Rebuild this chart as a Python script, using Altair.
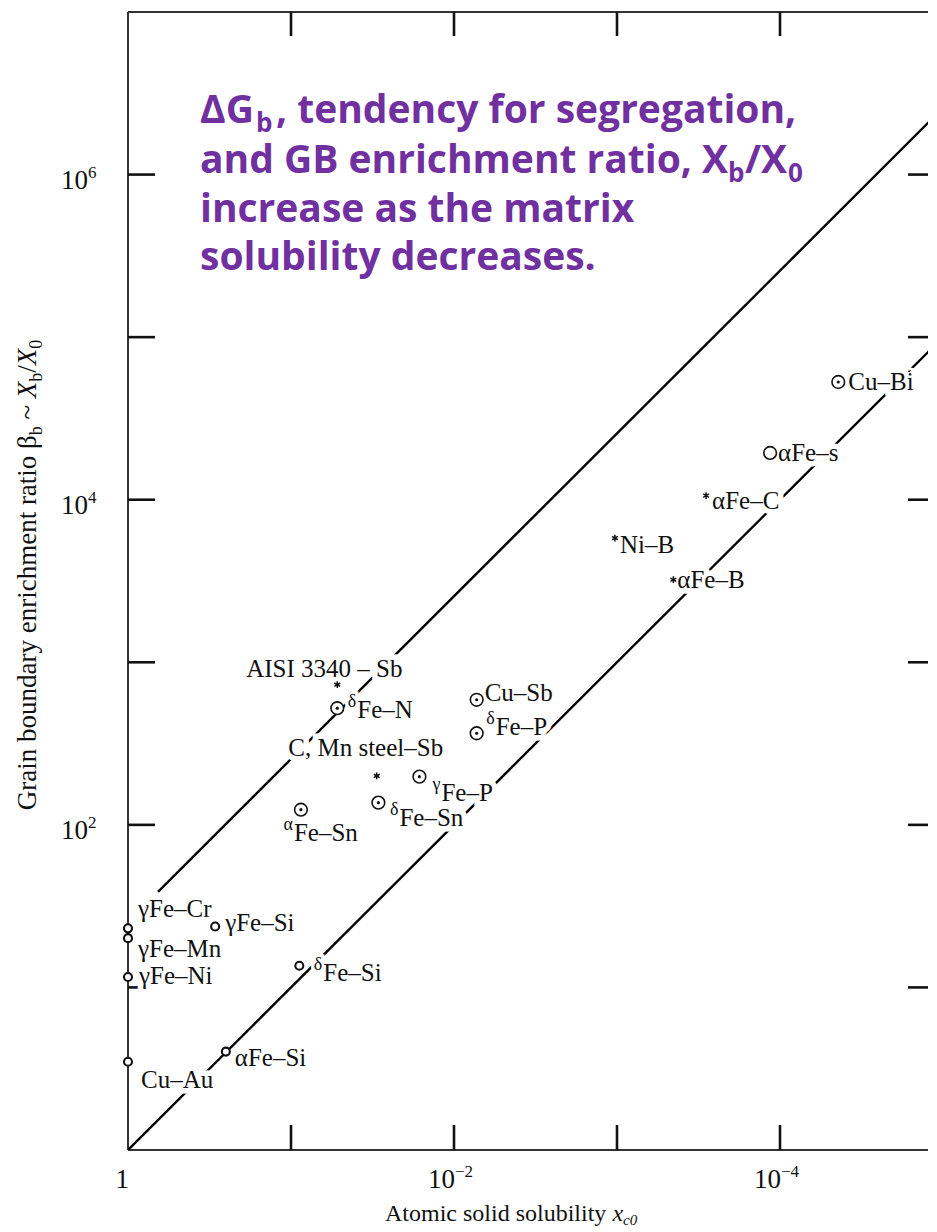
import math
import altair as alt
import pandas as pd

# ---------------- data ----------------
systems = ["Cu–Bi", "αFe–s", "αFe–C", "Ni–B", "αFe–B", "AISI 3340 – Sb", "Fe–N",
           "C, Mn steel–Sb", "Cu–Sb", "Fe–P", "Fe–P", "Fe–Sn", "Fe–Sn",
           "γFe–Cr", "γFe–Mn", "γFe–Si", "γFe–Ni", "Fe–Si", "Cu–Au", "αFe–Si"]
prefixes = ["", "", "", "", "", "", "δ", "", "", "δ", "γ", "δ", "α",
            "", "", "", "", "δ", "", ""]
solubility = [4.39e-5, 1.15e-4, 2.84e-4, 1.03e-3, 4.51e-4, 5.2e-2, 5.2e-2,
              2.98e-2, 7.26e-3, 7.26e-3, 1.63e-2, 2.91e-2, 8.69e-2,
              1.0, 1.0, 0.292, 1.0, 8.89e-2, 1.0, 0.251]
enrichment = [5.3e4, 1.94e4, 1.06e4, 5.81e3, 3.22e3, 728, 522,
              200, 588, 366, 198, 137, 124,
              23.1, 20.1, 23.7, 11.6, 13.6, 3.49, 4.03]
markers = ["dot", "ring", "star", "star", "star", "star", "dot",
           "star", "dot", "dot", "dot", "dot", "dot",
           "small", "small", "small", "small", "small", "small", "small"]

# trend lines (end points)
line_names = ["lower", "lower", "upper", "upper"]
line_x = [1.0, 1.104e-5, 0.655, 1.104e-5]
line_y = [1.0, 9.06e4, 38.7, 2.33e6]

# axes
x_tick_values = [1e-1, 1e-2, 1e-3, 1e-4]
y_tick_values = [1e1, 1e2, 1e3, 1e4, 1e5, 1e6]
x_label_values = [1.0, 1e-2, 1e-4]
x_label_base = ["1", "10", "10"]
x_label_exp = ["", "−2", "−4"]
y_label_values = [1e2, 1e4, 1e6]
y_label_base = ["10", "10", "10"]
y_label_exp = ["2", "4", "6"]

# ---------------- layout (pixel offsets of labels) ----------------
label_dx = [10, 8, 6, 5, 4, -13, 20, -11, 8, 19, 22, 21, -7, 10, 10, 10, 11, 24, 13, 9]
label_dy = [0, 0, 5, 7, 0, -16, 2, -28, -7, -6, 16, 15, 23, -19, 11, -4, -1, 7, 18, 6]
label_align = ["left"] * 5 + ["center", "left", "center"] + ["left"] * 12

X_MIN, X_MAX = 1.0, 1.236e-5
Y_MIN, Y_MAX = 1.0, 1.0e7
W, H = 800, 1138
PXD_X = W / math.log10(X_MIN / X_MAX)   # pixels per decade
PXD_Y = H / math.log10(Y_MAX / Y_MIN)
SERIF = "Liberation Serif"
SANS = "Open Sans"
PURPLE = "#7030A0"
INK = "#111111"
LABEL_SIZE = 25
PRE_SIZE = 18

df = pd.DataFrame({
    "name": systems, "pre": prefixes, "x": solubility, "y": enrichment,
    "marker": markers, "dx": label_dx, "dy": label_dy, "align": label_align,
})
lines = pd.DataFrame({"line": line_names, "x": line_x, "y": line_y})
xt = pd.DataFrame({"v": x_tick_values})
yt = pd.DataFrame({"v": y_tick_values})
xl = pd.DataFrame({"v": x_label_values, "base": x_label_base, "exp": x_label_exp})
yl = pd.DataFrame({"v": y_label_values, "base": y_label_base, "exp": y_label_exp})

xs = alt.Scale(type="log", domain=[X_MIN, X_MAX], nice=False)
ys = alt.Scale(type="log", domain=[Y_MIN, Y_MAX], nice=False)


def X(f):
    return alt.X(f, type="quantitative", scale=xs, axis=None)


def Y(f):
    return alt.Y(f, type="quantitative", scale=ys, axis=None)


one = pd.DataFrame({"k": [0]})
layers = []

# frame
layers.append(alt.Chart(one).mark_rule(color="#333", strokeWidth=2).encode(
    x=alt.value(0), y=alt.value(0), y2=alt.value(H)))
layers.append(alt.Chart(one).mark_rule(color="#333", strokeWidth=2).encode(
    x=alt.value(0), x2=alt.value(W), y=alt.value(0)))
layers.append(alt.Chart(one).mark_rule(color="#333", strokeWidth=2).encode(
    x=alt.value(0), x2=alt.value(W), y=alt.value(H)))

# inward ticks on four sides
layers.append(alt.Chart(xt).mark_rule(color=INK, strokeWidth=2.6).encode(
    x=X("v"), y=alt.value(0), y2=alt.value(24)))
layers.append(alt.Chart(xt).mark_rule(color=INK, strokeWidth=2.6).encode(
    x=X("v"), y=alt.value(H - 25), y2=alt.value(H)))
layers.append(alt.Chart(yt).mark_rule(color=INK, strokeWidth=2.6).encode(
    y=Y("v"), x=alt.value(0), x2=alt.value(27)))
layers.append(alt.Chart(yt).mark_rule(color=INK, strokeWidth=2.6).encode(
    y=Y("v"), x=alt.value(W - 20), x2=alt.value(W)))

# tick labels: base "10" plus a raised exponent
layers.append(alt.Chart(xl).mark_text(align="right", baseline="alphabetic", font=SERIF,
                                      fontSize=27, color=INK, dx=1).encode(
    x=X("v"), y=alt.value(H + 38), text="base:N"))
layers.append(alt.Chart(xl).mark_text(align="left", baseline="alphabetic", font=SERIF,
                                      fontSize=17, color=INK, dx=1).encode(
    x=X("v"), y=alt.value(H + 27), text="exp:N"))
layers.append(alt.Chart(yl).mark_text(align="right", baseline="alphabetic", font=SERIF,
                                      fontSize=27, color=INK, dy=14).encode(
    y=Y("v"), x=alt.value(-40), text="base:N"))
layers.append(alt.Chart(yl).mark_text(align="left", baseline="alphabetic", font=SERIF,
                                      fontSize=17, color=INK, dy=3).encode(
    y=Y("v"), x=alt.value(-40), text="exp:N"))

# trend lines
layers.append(alt.Chart(lines).mark_line(color="black", strokeWidth=2.4, clip=True).encode(
    x=X("x"), y=Y("y"), detail="line:N"))

# label anchor positions derived from the pixel offsets
lab = alt.Chart(df).transform_calculate(
    lx=f"datum.x * pow(10, -datum.dx / {PXD_X})",
    ly=f"datum.y * pow(10, -datum.dy / {PXD_Y})",
    sx=f"datum.x * pow(10, -(datum.dx - 1) / {PXD_X})",
    sy=f"datum.y * pow(10, -(datum.dy - 8) / {PXD_Y})",
)

# label halos (knock out the lines behind labels)
for al in ["left", "center"]:
    layers.append(lab.transform_filter(alt.datum.align == al).mark_text(
        align=al, baseline="middle", font=SERIF, fontSize=LABEL_SIZE,
        stroke="white", strokeWidth=11, fill="white").encode(
        x=X("lx:Q"), y=Y("ly:Q"), text="name:N"))
layers.append(lab.transform_filter(alt.datum.pre != "").mark_text(
    align="right", baseline="middle", font=SERIF, fontSize=PRE_SIZE,
    stroke="white", strokeWidth=7, fill="white").encode(
    x=X("sx:Q"), y=Y("sy:Q"), text="pre:N"))

# markers
layers.append(alt.Chart(df).transform_filter(
    (alt.datum.marker == "dot") | (alt.datum.marker == "ring")).mark_point(
    shape="circle", size=160, fill="white", fillOpacity=1, stroke=INK,
    strokeWidth=1.6, opacity=1).encode(x=X("x"), y=Y("y")))
layers.append(alt.Chart(df).transform_filter(alt.datum.marker == "dot").mark_point(
    shape="circle", size=10, filled=True, color=INK, opacity=1).encode(x=X("x"), y=Y("y")))
layers.append(alt.Chart(df).transform_filter(alt.datum.marker == "small").mark_point(
    shape="circle", size=64, fill="white", fillOpacity=1, stroke=INK,
    strokeWidth=2.1, opacity=1).encode(x=X("x"), y=Y("y")))
layers.append(alt.Chart(df).transform_filter(alt.datum.marker == "star").mark_point(
    shape="M0,-1L0,1M-0.87,-0.5L0.87,0.5M-0.87,0.5L0.87,-0.5", size=45,
    filled=False, stroke=INK, strokeWidth=1.5, opacity=1).encode(x=X("x"), y=Y("y")))

# labels
for al in ["left", "center"]:
    layers.append(lab.transform_filter(alt.datum.align == al).mark_text(
        align=al, baseline="middle", font=SERIF, fontSize=LABEL_SIZE, color=INK).encode(
        x=X("lx:Q"), y=Y("ly:Q"), text="name:N"))
# raised phase prefixes (δ, γ, α)
layers.append(lab.transform_filter(alt.datum.pre != "").mark_text(
    align="right", baseline="middle", font=SERIF, fontSize=PRE_SIZE, color=INK).encode(
    x=X("sx:Q"), y=Y("sy:Q"), text="pre:N"))

# ---------------- axis titles built from pieces (with subscripts) ----------------
TR = {' ': 250, 'G': 722, 'r': 333, 'a': 444, 'i': 278, 'n': 500, 'b': 500, 'o': 500,
      'u': 500, 'd': 500, 'y': 500, 'e': 444, 'c': 444, 'h': 500, 'm': 778, 't': 278,
      'β': 500, '~': 541, '/': 278, '0': 500, 'A': 722, 's': 389, 'l': 278, 'X': 722, 'x': 500}
TI = {'X': 611, 'x': 444, ' ': 250}


def tw(s, size, italic=False):
    tab = TI if italic else TR
    return sum(tab.get(ch, TR.get(ch, 500)) for ch in s) * size / 1000.0


def piece(text, px, py, size, font=SERIF, color=INK, style="normal",
          weight="normal", angle=None, align="left"):
    kw = dict(text=text, font=font, fontSize=size, color=color, fontStyle=style,
              fontWeight=weight, align=align, baseline="alphabetic")
    if angle is not None:
        kw["angle"] = angle
    return alt.Chart(one).mark_text(**kw).encode(x=alt.value(px), y=alt.value(py))


# y title: Grain boundary enrichment ratio β_b ~ X_b/X_0 (rotated)
y_parts = [("Grain boundary enrichment ratio β", False, 27, 0), ("b", False, 18, 6),
           (" ~ ", False, 27, 0), ("X", True, 27, 0), ("b", False, 18, 6),
           ("/", False, 27, 0), ("X", True, 27, 0), ("0", False, 18, 6)]
total = sum(tw(t, s, it) for t, it, s, _ in y_parts)
pos = 563 + total / 2
for t, it, s, sh in y_parts:
    lead = tw(t[:len(t) - len(t.lstrip())], s, it)
    if t.strip():
        layers.append(piece(t.strip(), -92 + sh, pos - lead, s,
                            style="italic" if it else "normal", angle=270))
    pos -= tw(t, s, it)

# x title: Atomic solid solubility x_c0
x_parts = [("Atomic solid solubility ", False, 24, 0), ("x", True, 24, 0), ("c0", True, 15, 4)]
pos = 257
for t, it, s, sh in x_parts:
    layers.append(piece(t.strip(), pos, 1209 + sh, s, style="italic" if it else "normal"))
    pos += tw(t, s, it)

# ---------------- purple annotation ----------------
ann = [("ΔG", 72, 111, 39), ("b", 128, 120, 26), (", tendency for segregation,", 148, 111, 39),
       ("and GB enrichment ratio, X", 72, 160.5, 39), ("b", 600, 170, 26),
       ("/X", 617, 160.5, 39), ("0", 660, 170, 26),
       ("increase as the matrix", 72, 209.7, 39), ("solubility decreases.", 72, 258, 39)]
for t, px, py, s in ann:
    layers.append(piece(t, px, py, s, font=SANS, color=PURPLE, weight="bold"))

chart = alt.layer(*layers).properties(
    width=W, height=H,
    padding={"left": 120, "top": 4, "right": 1, "bottom": 82},
    autosize=alt.AutoSizeParams(type="none"),
    background="white",
).configure_view(stroke=None)

chart.save("out.html", embed_options={"renderer": "svg", "actions": False})
